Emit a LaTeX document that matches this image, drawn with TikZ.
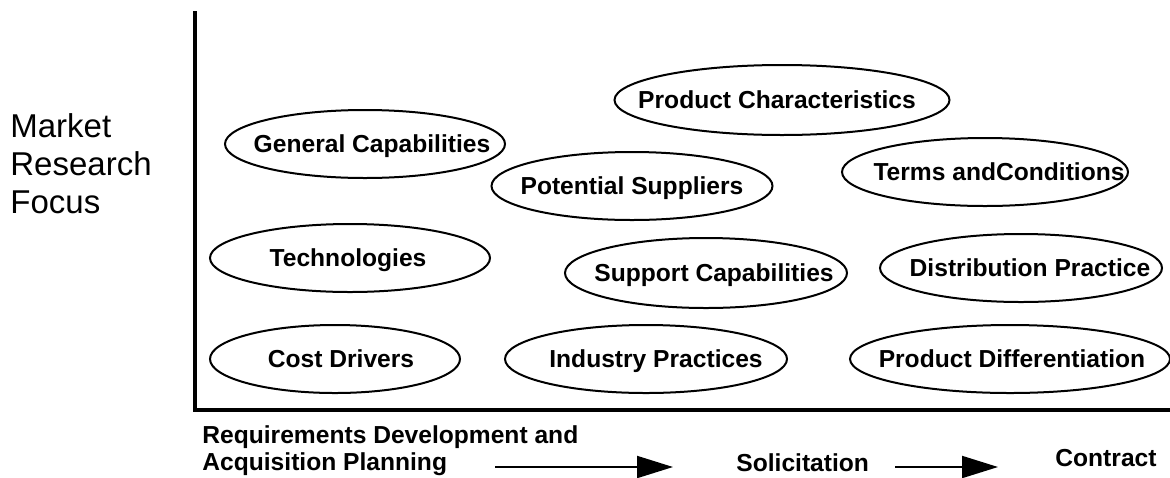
\documentclass[tikz,border=0pt]{standalone}
\usepackage{fontspec}
\setmainfont{Liberation Sans}
\usetikzlibrary{shapes.geometric,arrows.meta}

\begin{document}
\begin{tikzpicture}
[x=0.5pt,y=-0.5pt,
oval/.style={draw,ellipse,line width=1pt,inner sep=0pt,minimum height=34pt},
lab/.style={font=\fontsize{12.3}{14}\selectfont\bfseries,inner sep=0pt,text height=10pt,text depth=2pt},
flow/.style={line width=1pt,-{Triangle[length=18pt,width=11pt]}},]

\useasboundingbox (0,0) rectangle (1170,477);

%Axes
\draw[line width=2pt] (195,11) -- (195,410) -- (1170,410);

%Axis title
\node (focus) at (10,213)[anchor=base west,align=left,inner sep=0pt,
  font=\fontsize{16.5}{19}\selectfont] {Market\\Research\\Focus};

%Research topics
\node (gen) at (365,144)[oval,minimum width=140pt,label={[lab,xshift=3.5pt]center:General Capabilities}] {};
\node (prod) at (782,100)[oval,minimum width=167.5pt,minimum height=35pt,label={[lab,xshift=-2.5pt]center:Product Characteristics}] {};
\node (pot) at (632,186)[oval,minimum width=140.5pt,label={[lab]center:Potential Suppliers}] {};
\node (terms) at (985,172)[oval,minimum width=143pt,label={[lab,xshift=7pt]center:Terms andConditions}] {};
\node (tech) at (350,258)[oval,minimum width=140pt,label={[lab,xshift=-1pt]center:Technologies}] {};
\node (supp) at (706,273)[oval,minimum width=141pt,minimum height=35pt,label={[lab,xshift=4pt]center:Support Capabilities}] {};
\node (dist) at (1021,268)[oval,minimum width=141pt,label={[lab,xshift=4.5pt]center:Distribution Practice}] {};
\node (cost) at (335,359)[oval,minimum width=125pt,label={[lab,xshift=3pt]center:Cost Drivers}] {};
\node (ind) at (646,359)[oval,minimum width=141pt,label={[lab,xshift=5pt]center:Industry Practices}] {};
\node (diff) at (1010,359)[oval,minimum width=160pt,label={[lab,xshift=1pt]center:Product Differentiation}] {};

%Acquisition phases
\node (req) at (202,470)[anchor=base west,align=left,inner sep=0pt,
  font=\fontsize{12.3}{13.5}\selectfont\bfseries] {Requirements Development and\\Acquisition Planning};
\node (sol) at (736,471)[anchor=base west,inner sep=0pt,font=\fontsize{12.3}{14}\selectfont\bfseries] {Solicitation};
\node (con) at (1055,466)[anchor=base west,inner sep=0pt,font=\fontsize{12.3}{14}\selectfont\bfseries] {Contract};

%Phase arrows
\coordinate (a1) at (495,467);
\coordinate (b1) at (673,467);
\coordinate (a2) at (895,467);
\coordinate (b2) at (998,467);
\draw[flow] (a1) -- (b1);
\draw[flow] (a2) -- (b2);

\end{tikzpicture}
\end{document}
